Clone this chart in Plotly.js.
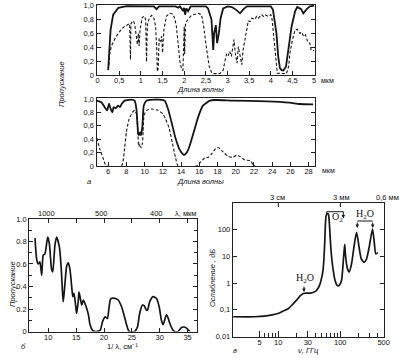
<!DOCTYPE html>
<html><head><meta charset="utf-8">
<script src="https://cdn.plot.ly/plotly-3.0.1.min.js"></script>
<style>html,body{margin:0;padding:0;background:#fff}#chart{width:400px;height:358px}</style>
</head><body><div id="chart"></div>
<script>
// ---- Panel a (top): 0–5 µm ----
const a1SolidWl = [0.245,0.26,0.27,0.30,0.36,0.48,0.67,1.0,1.3,1.36,1.42,1.8,1.86,1.9,1.97,2.0,2.02,2.05,2.09,2.15,2.5,2.55,2.63,2.67,2.69,2.73,2.76,2.8,2.84,2.9,3.0,3.1,3.2,3.29,3.37,3.45,4.0,4.05,4.1,4.13,4.17,4.21,4.25,4.29,4.35,4.4,4.48,4.56,4.61,4.7,4.75,4.83,4.9,5.0];
const a1SolidT  = [0.07,0.2,0.36,0.65,0.87,0.97,0.995,0.995,0.99,0.95,0.99,0.99,0.97,0.99,0.93,0.97,0.87,0.96,0.92,0.99,0.99,0.96,0.8,0.36,0.6,0.72,0.46,0.6,0.82,0.96,0.99,0.98,0.94,0.89,0.95,0.99,0.99,0.94,0.75,0.6,0.27,0.1,0.07,0.065,0.12,0.36,0.7,0.92,0.98,0.95,0.89,0.95,0.99,1.0];
const a1DashWl = [0.26,0.28,0.32,0.36,0.42,0.48,0.55,0.62,0.7,0.74,0.76,0.77,0.8,0.83,0.86,0.9,0.92,0.94,0.96,0.98,1.03,1.08,1.11,1.13,1.15,1.2,1.25,1.3,1.34,1.36,1.38,1.40,1.42,1.45,1.48,1.5,1.53,1.59,1.67,1.74,1.79,1.82,1.86,1.9,1.94,1.97,2.0,2.01,2.03,2.09,2.15,2.21,2.32,2.4,2.45,2.52,2.58,2.63,2.67,2.82,2.9,2.94,2.98,3.02,3.05,3.09,3.12,3.15,3.18,3.2,3.22,3.25,3.29,3.33,3.36,3.4,3.44,3.48,3.52,3.56,3.63,3.67,3.71,3.79,3.83,3.87,3.94,4.0,4.03,4.05,4.09,4.12,4.15,4.36,4.41,4.44,4.5,4.56,4.61,4.67,4.71,4.76,4.8,4.85,4.9,4.93,4.98,5.0];
const a1DashT  = [0.145,0.31,0.42,0.48,0.55,0.6,0.66,0.7,0.73,0.74,0.22,0.74,0.77,0.78,0.72,0.55,0.44,0.6,0.42,0.65,0.83,0.85,0.8,0.19,0.73,0.83,0.86,0.82,0.7,0.45,0.05,0.1,0.53,0.48,0.56,0.32,0.65,0.85,0.89,0.88,0.8,0.7,0.46,0.2,0.08,0.07,0.7,0.3,0.75,0.8,0.85,0.87,0.89,0.87,0.7,0.36,0.12,0.04,0.02,0.02,0.07,0.2,0.31,0.28,0.34,0.27,0.38,0.51,0.31,0.22,0.17,0.41,0.27,0.15,0.36,0.5,0.7,0.78,0.77,0.82,0.8,0.845,0.82,0.87,0.845,0.87,0.845,0.87,0.8,0.65,0.36,0.12,0.025,0.02,0.12,0.31,0.51,0.65,0.66,0.6,0.62,0.555,0.58,0.48,0.46,0.36,0.35,0.36];
const a1TickVals = [0,0.5,1,1.5,2,2.5,3,3.5,4,4.5,5];
const a1TickText = ["0","0,5","1","1,5","2","2,5","3","3,5","4","4,5","5"];

// ---- Panel a (bottom): 5–28 µm ----
const a2SolidWl = [4.74,5.25,5.6,5.87,6.1,6.2,6.46,6.6,6.82,7.08,7.3,7.5,7.8,8.2,8.55,8.9,9.1,9.27,9.35,9.5,9.6,9.76,9.9,10.2,10.9,11.66,12.2,12.57,12.94,13.4,13.86,14.3,14.66,14.96,15.4,15.87,16.4,17.15,17.8,19.7,23.4,25.9,27.0,28.5];
const a2SolidT  = [0.975,0.95,0.88,0.83,0.93,0.88,0.8,0.88,0.86,0.9,0.88,0.93,0.975,0.985,0.99,0.975,0.85,0.51,0.46,0.5,0.46,0.6,0.9,0.975,0.99,0.99,0.975,0.85,0.66,0.41,0.24,0.165,0.21,0.31,0.51,0.73,0.9,0.975,0.985,0.975,0.965,0.945,0.925,0.92];
const a2DashWl = [4.74,5.07,5.43,5.8,7.45,7.63,7.8,8.0,8.29,8.66,8.9,9.1,9.27,9.35,9.5,9.6,9.76,9.83,9.93,10.2,10.75,11.47,12.0,12.3,12.7,13.05,13.4,13.67,15.7,16.05,16.6,17.0,17.4,17.8,18.1,18.6,19.2,19.7,20.1,20.5,21.0,21.6,21.9,22.1];
const a2DashT  = [0.42,0.26,0.12,0.0,0.0,0.07,0.26,0.51,0.7,0.8,0.83,0.78,0.46,0.29,0.33,0.27,0.34,0.51,0.75,0.83,0.85,0.83,0.78,0.7,0.56,0.34,0.12,0.0,0.0,0.045,0.12,0.13,0.19,0.26,0.275,0.21,0.14,0.13,0.16,0.14,0.09,0.08,0.02,0.0];
const a2TickVals = [6,8,10,12,14,16,18,20,22,24,26,28];
const aYTickVals = [0,0.2,0.4,0.6,0.8,1.0];
const aYTickText = ["0","0,2","0,4","0,6","0,8","1,0"];

// ---- Panel б: submillimetre transmission ----
const bWavenum = [7.62,7.93,8.2,8.5,8.82,9.1,9.4,9.9,10.2,10.6,10.8,11.2,11.5,12.0,12.3,12.6,12.7,13.0,13.3,13.6,13.9,14.2,14.4,14.6,14.8,15.0,15.1,15.4,15.5,15.7,16.0,16.3,16.8,17.2,17.5,17.96,18.4,19.3,19.75,20.2,20.6,20.9,21.2,21.96,22.55,23.15,23.75,24.05,24.5,25.5,26.0,26.4,26.9,27.2,27.6,27.8,28.2,28.8,29.4,29.9,30.3,30.6,31.2,31.5,31.9,32.4,32.7,33.3,33.9,34.3,34.8,35.4];
const bTrans   = [0.83,0.64,0.6,0.62,0.5,0.68,0.69,0.84,0.78,0.55,0.53,0.77,0.84,0.75,0.58,0.31,0.265,0.43,0.58,0.61,0.55,0.4,0.31,0.34,0.28,0.19,0.16,0.28,0.35,0.31,0.235,0.28,0.22,0.15,0.06,0.01,0.0,0.01,0.09,0.13,0.115,0.21,0.29,0.295,0.28,0.22,0.117,0.06,0.0,0.0,0.04,0.16,0.235,0.23,0.19,0.19,0.265,0.31,0.295,0.22,0.1,0.06,0.15,0.12,0.06,0.01,0.0,0.0,0.035,0.04,0.03,0.0];
const bTickVals = [10,15,20,25,30,35];
const bTopText = ["1000","500","400"];
const bYTickVals = [0,0.2,0.4,0.6,0.8,1.0];
const bYTickText = ["0","0.2","0.4","0.6","0.8","1.0"];

// ---- Panel в: attenuation vs frequency ----
const cFreq = [1.88,4.2,6,8,9.9,12,14.5,17,19.8,22.5,25.2,28.6,33,39,43,46.9,49,51,53,54.3,56,57.5,59,61,64,66,68,70,73,77,82,88,93,99,105,109,112,115,118,121,126,132,139,152,166,183,201,218,242,265,292,331,351,374,403];
const cAtt  = [0.055,0.055,0.058,0.065,0.073,0.09,0.11,0.16,0.23,0.33,0.41,0.42,0.42,0.48,0.6,0.9,1.3,1.9,3.5,7,30,150,330,390,390,250,80,25,8,3,1.3,0.85,0.78,0.9,1.3,3,7,15,28,12,5.3,3.2,2.6,5.3,22,79,22,8,6,8,22,105,39,12.3,14];
const cTickVals = [5,10,30,100,500];
const cTickText = ["5","10","30","100","500"];
const cMinorVals = [6,7,8,9,20,40,50,60,70,80,90,200,300,400];
const cTopText = ["3 см","3 мм","0,6 мм"];
const cYTickVals = [0.01,0.1,1,10,100];
const cYTickText = ["0,01","0,1","1","10","100"];

const W = 400, H = 358;
const PX = v => v / W, PY = v => 1 - v / H;
const INK = '#151515';
const FONT = {family: 'Liberation Sans, Arial, sans-serif', size: 7.5, color: '#111'};

const solid = {color: INK, width: 1.8};
const dashed = {color: INK, width: 1.1, dash: '3px,2px'};

const traces = [
  {x: a1SolidWl, y: a1SolidT, xaxis: 'x', yaxis: 'y', mode: 'lines', line: solid},
  {x: a1DashWl, y: a1DashT, xaxis: 'x', yaxis: 'y', mode: 'lines', line: dashed},
  {x: a2SolidWl, y: a2SolidT, xaxis: 'x2', yaxis: 'y2', mode: 'lines', line: Object.assign({shape: 'spline', smoothing: 0.5}, solid)},
  {x: a2DashWl, y: a2DashT, xaxis: 'x2', yaxis: 'y2', mode: 'lines', line: Object.assign({shape: 'spline', smoothing: 0.5}, dashed)},
  {x: bWavenum, y: bTrans, xaxis: 'x3', yaxis: 'y3', mode: 'lines', line: {color: INK, width: 1.7, shape: 'spline', smoothing: 0.6}},
  {x: cFreq, y: cAtt, xaxis: 'x4', yaxis: 'y4', mode: 'lines', line: {color: INK, width: 1.7, shape: 'spline', smoothing: 0.6}}
];

const axBase = {showgrid: false, zeroline: false, showline: true, linecolor: '#222', linewidth: 1.2,
  ticks: 'inside', ticklen: 4, tickwidth: 1, tickcolor: '#222', tickfont: FONT, fixedrange: true};
const ax = o => Object.assign({}, axBase, o);

const dA = [0.2418, 0.7875];
const layout = {
  width: W, height: H, margin: {l: 0, r: 0, t: 0, b: 0, autoexpand: false},
  paper_bgcolor: '#fff', plot_bgcolor: '#fff', showlegend: false, font: FONT,
  xaxis:  ax({domain: dA, anchor: 'y', range: [-0.02, 5.02], tickvals: a1TickVals, ticktext: a1TickText, mirror: true, ticklabelstandoff: -2}),
  yaxis:  ax({domain: [0.7905, 0.986], anchor: 'x', range: [0, 1.01], tickvals: aYTickVals, ticktext: aYTickText, mirror: 'ticks'}),
  xaxis2: ax({domain: dA, anchor: 'y2', range: [4.74, 28.7], tickvals: a2TickVals, mirror: true, ticklabelstandoff: -2}),
  yaxis2: ax({domain: [0.5363, 0.7254], anchor: 'x2', range: [0, 1.01], tickvals: aYTickVals, ticktext: aYTickText, mirror: 'ticks'}),
  xaxis3: ax({domain: [0.0733, 0.4913], anchor: 'y3', range: [6.6, 36.6], tickvals: bTickVals, mirror: 'ticks', ticklabelstandoff: -2}),
  yaxis3: ax({domain: [0.074, 0.3883], anchor: 'x3', range: [0, 1], tickvals: bYTickVals, ticktext: bYTickText, mirror: 'ticks',
    minor: {dtick: 0.1, ticks: 'inside', ticklen: 3, tickcolor: '#222'}}),
  xaxis4: ax({domain: [0.5825, 0.96], anchor: 'y4', type: 'log', range: [0.27, 2.705], tickvals: cTickVals, ticktext: cTickText, ticklen: 6, mirror: true, ticklabelstandoff: -2,
    minor: {tickvals: cMinorVals, ticks: 'inside', ticklen: 4, tickcolor: '#222'}}),
  yaxis4: ax({domain: [0.06, 0.433], anchor: 'x4', type: 'log', range: [-2, 3], tickvals: cYTickVals, ticktext: cYTickText, mirror: 'ticks'}),
  annotations: [], shapes: []
};

const txt = (t, x, y, extra) => Object.assign({text: t, x: PX(x), y: PY(y), xref: 'paper', yref: 'paper',
  xanchor: 'center', yanchor: 'middle', showarrow: false, font: FONT}, extra || {});
const IT = {family: 'Liberation Sans, Arial, sans-serif', size: 7.5, color: '#111', style: 'italic'};
const SMALL = {family: 'Liberation Sans, Arial, sans-serif', size: 7, color: '#111'};
const SER = {family: 'Liberation Serif, Times New Roman, serif', size: 10, color: '#111'};
layout.annotations.push(
  txt('Длина волны', 201, 89.5, {font: IT}),
  txt('Длина волны', 200, 181.5, {font: IT}),
  txt('мкм', 327, 80.5, {font: SMALL}),
  txt('мкм', 328, 170, {font: SMALL}),
  txt('а', 89, 181.5, {font: IT}),
  txt('Пропускание', 62, 84, {font: IT, textangle: -90}),
  txt('Пропускание', 12, 284, {font: IT, textangle: -90}),
  txt('1/ λ, см⁻¹', 122, 346),
  txt('б', 23, 346, {font: IT}),
  txt(bTopText[0], 46.7, 213.5),
  txt(bTopText[1], 101.7, 213.5),
  txt(bTopText[2], 156.7, 213.5),
  txt('λ, мкм', 186, 213.5),
  txt('Ослабление , дБ', 212, 278, {font: IT, textangle: -90}),
  txt('ν, ГГц', 308, 350, {font: IT}),
  txt('в', 235, 350, {font: IT}),
  txt(cTopText[0], 277, 197),
  txt(cTopText[1], 341, 197),
  txt(cTopText[2], 387, 197),
  txt('H<sub>2</sub>O', 305, 278, {font: SER}),
  txt('O<sub>2</sub>', 337.5, 217.5, {font: SER}),
  txt('H<sub>2</sub>O', 365, 214.5, {font: SER})
);
const arrow = (x, yTip, len) => ({text: '', x: PX(x), y: PY(yTip), xref: 'paper', yref: 'paper', showarrow: true,
  ax: 0, ay: -len, arrowhead: 2, arrowsize: 0.7, arrowwidth: 1, arrowcolor: INK});
layout.annotations.push(arrow(304, 292, 7), arrow(343.3, 218.5, 7), arrow(357.3, 228, 7), arrow(372.7, 228, 7));
const seg = (x0, y0, x1, y1) => ({type: 'line', xref: 'paper', yref: 'paper', x0: PX(x0), y0: PY(y0), x1: PX(x1), y1: PY(y1), line: {color: INK, width: 1}});
layout.shapes.push(
  seg(326.7, 211.7, 343.3, 211.7), seg(326.7, 211.7, 326.7, 215), seg(343.3, 211.7, 343.3, 213), seg(357.3, 221, 372.7, 221),
  // top-edge ticks of panel в at 10 GHz and 100 GHz
  seg(278.3, 203, 278.3, 207), seg(340.4, 203, 340.4, 207)
);

Plotly.newPlot('chart', traces, layout, {staticPlot: true, displayModeBar: false});
</script></body></html>
